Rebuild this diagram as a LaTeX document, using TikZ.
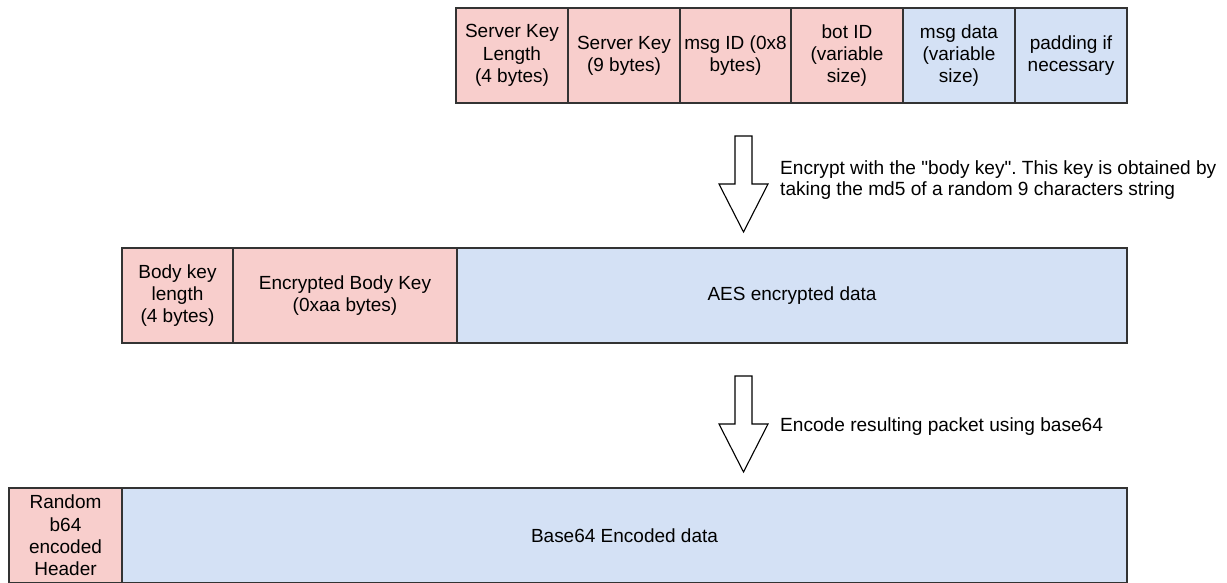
\documentclass[tikz,border=0pt]{standalone}
\usepackage{fontspec}
\setmainfont{Liberation Sans}
\frenchspacing
\definecolor{pinkf}{HTML}{F8CECC}
\definecolor{bluef}{HTML}{D4E1F5}
\definecolor{edgec}{HTML}{333333}
\begin{document}
\begin{tikzpicture}[x=1pt,y=-1pt,
  cell/.style={draw=edgec, line width=1.3pt, inner sep=0pt, align=center,
    minimum height=95pt, font=\fontsize{19}{22.3}\selectfont},
  redcell/.style={cell, fill=pinkf},
  bluecell/.style={cell, fill=bluef},
  blockarrow/.style={draw=black, fill=white, line width=1.1pt, line join=miter},
  lbl/.style={inner sep=0pt, align=left, font=\fontsize{19.1}{21.5}\selectfont}]
\useasboundingbox (0,0) rectangle (1227,582);
% top row
\node[redcell, minimum width=112pt] (skl) at (512,55.5) {Server Key\\Length\\(4 bytes)};
\node[redcell, minimum width=112pt] (sk) at (624,55.5) {Server Key\\(9 bytes)};
\node[redcell, minimum width=111pt] (mid) at (735.5,55.5) {msg ID (0x8\\bytes)};
\node[redcell, minimum width=112pt] (bid) at (847,55.5) {bot ID\\(variable\\size)};
\node[bluecell, minimum width=112pt] (md) at (959,55.5) {msg data\\(variable\\size)};
\node[bluecell, minimum width=112pt] (pad) at (1071,55.5) {padding if\\necessary};
% middle row
\node[redcell, minimum width=111pt] (bkl) at (177.5,295.5) {Body key\\length\\(4 bytes)};
\node[redcell, minimum width=224pt] (ebk) at (345,295.5) {Encrypted Body Key\\(0xaa bytes)};
\node[bluecell, minimum width=670pt] (aes) at (792,295.5) {AES encrypted data};
% bottom row
\node[redcell, minimum width=113pt] (rh) at (65.5,535.5) {Random\\b64\\encoded\\Header};
\node[bluecell, minimum width=1005pt] (b64) at (624.5,535.5) {Base64 Encoded data};
% arrows
\draw[blockarrow] (735,136) -- (752,136) -- (752,184) -- (768,184) -- (743.5,232)
  -- (719,184) -- (735,184) -- cycle;
\draw[blockarrow] (735,376) -- (752,376) -- (752,424) -- (768,424) -- (743.5,472)
  -- (719,424) -- (735,424) -- cycle;
\node[lbl, anchor=west] (l1) at (780,180) {Encrypt with the \textquotedbl body key\textquotedbl. This key is obtained by\\taking the md5 of a random 9 characters string};
\node[lbl, anchor=west] (l2) at (780,427) {Encode resulting packet using base64};
\end{tikzpicture}
\end{document}
